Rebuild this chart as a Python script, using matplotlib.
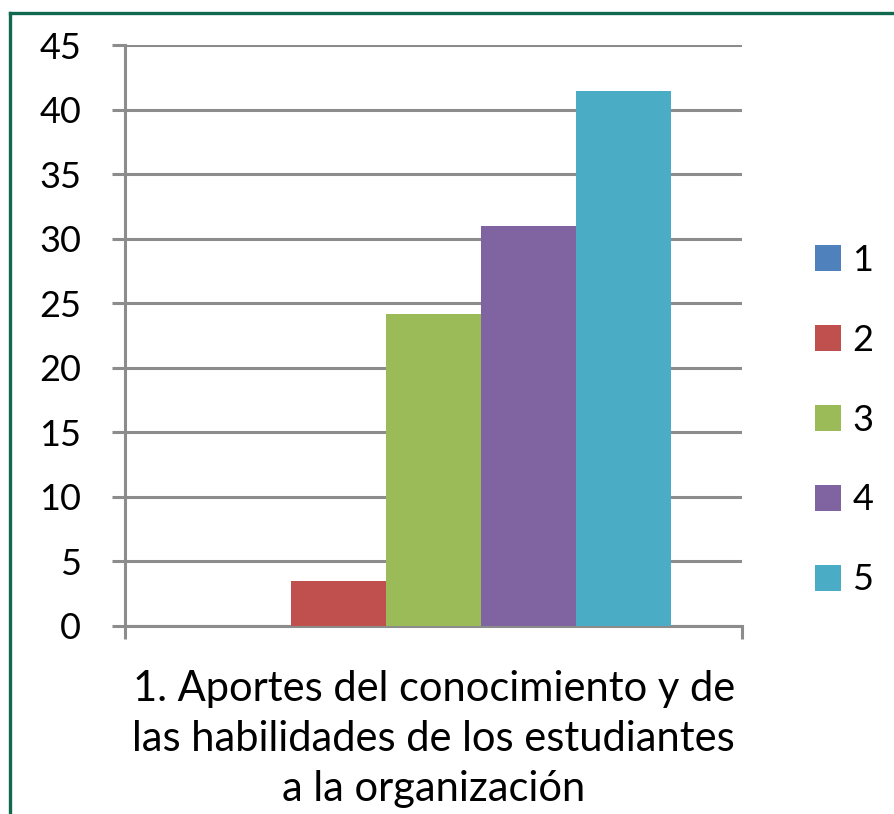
import numpy as np
import matplotlib.pyplot as plt
from matplotlib.lines import Line2D

# data
category = '1. Aportes del conocimiento y de\nlas habilidades de los estudiantes\na la organización'
series = ['1', '2', '3', '4', '5']
values = [0, 3.5, 24.2, 31.0, 41.4]
colors = ['#4F81BD', '#C0504D', '#9BBB59', '#8064A2', '#4BACC6']

plt.rcParams['font.family'] = ['Lato', 'DejaVu Sans']

fig = plt.figure(figsize=(8.95, 8.14), dpi=100)
ax = fig.add_axes([0.1397, 0.231, 0.6897, 0.7137])

width = 0.154  # width of each bar
n = len(series)
offsets = (np.arange(n) - (n - 1) / 2) * width
bars = []
for i in range(n):
    b = ax.bar(offsets[i], values[i], width, color=colors[i], label=series[i], zorder=3)
    bars.append(b)

ax.set_xlim(-0.5, 0.5)
ax.set_ylim(0, 45)
ax.set_yticks(np.arange(0, 46, 5))
ax.yaxis.grid(True, color='#8c8c8c', linewidth=2.2, zorder=0)
ax.set_axisbelow(True)

for s in ['top', 'right']:
    ax.spines[s].set_visible(False)
ax.spines['left'].set_color('#8c8c8c')
ax.spines['left'].set_linewidth(2.2)
ax.spines['bottom'].set_color('#8c8c8c')
ax.spines['bottom'].set_linewidth(2.2)

ax.tick_params(axis='y', length=9.5, width=2.2, color='#8c8c8c', pad=22, labelsize=26)
ax.set_xticks([0])
ax.set_xticklabels([category], fontsize=30, linespacing=1.38)
ax.tick_params(axis='x', which='major', length=0, pad=32)
ax.set_xticks([-0.5, 0.5], minor=True)
ax.tick_params(axis='x', which='minor', length=9, width=2.2, color='#8c8c8c')

fig.legend(handles=[b[0] for b in bars], labels=series, loc='center left',
           bbox_to_anchor=(0.895, 0.484), frameon=False, fontsize=26,
           handlelength=0.72, handleheight=0.72, handletextpad=0.3,
           labelspacing=1.3, borderaxespad=0)

# green frame lines
fig.add_artist(Line2D([0.0112, 1.0], [0.984, 0.984], transform=fig.transFigure,
                      color='#10694f', linewidth=2.4))
fig.add_artist(Line2D([0.0112, 0.0112], [0.0, 0.984], transform=fig.transFigure,
                      color='#10694f', linewidth=2.4))

plt.savefig('out.png', dpi=100)
